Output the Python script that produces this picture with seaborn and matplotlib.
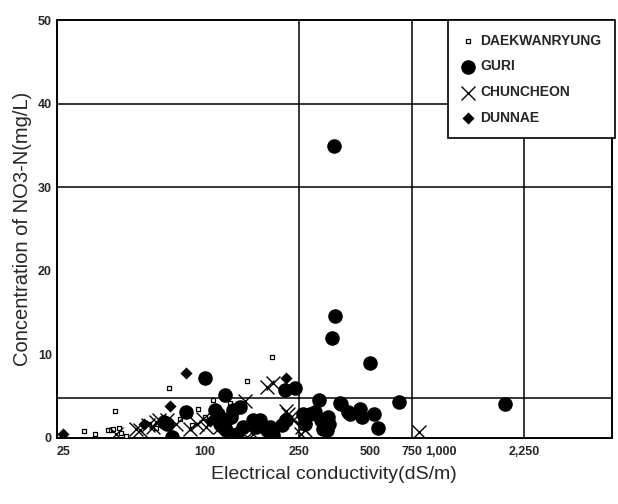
import matplotlib
matplotlib.use("Agg")
import matplotlib.pyplot as plt
import seaborn as sns
import pandas as pd

# EC (dS/m) and NO3-N (mg/L) per site
daek_ec = [30.5, 34, 41.5, 38.7, 40, 40.5, 43, 46, 44, 58, 62, 70.5, 78, 88, 93, 100, 104,
           108, 127, 150, 165, 175, 192]
daek_no3 = [0.8, 0.4, 3.2, 0.9, 0.9, 1.0, 1.2, 0.2, 0.6, 1.6, 1.2, 5.9, 2.2, 1.5, 3.5, 2.5, 1.8,
            4.5, 4.2, 6.8, 2.2, 2.4, 9.7]

guri_ec = [353, 354, 344, 499, 100, 121, 218, 240, 304, 372, 403, 378, 410, 455, 463, 522, 540,
           662, 1860, 83, 110, 129, 141, 145, 119, 116, 136, 72, 67, 311, 331, 315, 277, 264,
           221, 211, 182, 194, 170, 159, 260, 291, 327, 336, 68.6, 113, 123, 131, 123, 165,
           188, 116]
guri_no3 = [35.0, 14.6, 12.0, 8.9, 7.2, 5.1, 5.7, 5.9, 4.5, 4.2, 3.1, 4.1, 2.9, 3.5, 2.5, 2.9, 1.2,
            4.3, 4.0, 3.1, 3.3, 2.5, 3.7, 1.3, 1.3, 2.1, 0.5, 0.1, 1.9, 2.1, 2.5, 1.1, 2.9, 1.7,
            2.1, 1.5, 0.9, 0.3, 2.1, 2.1, 2.9, 3.1, 0.9, 1.7, 1.7, 2.9, 2.1, 3.3, 0.9, 1.3,
            1.3, 1.7]

chun_ec = [42, 51, 53, 57, 60, 62, 64, 69, 75.5, 86, 92, 98, 101, 116, 148, 150, 160, 182, 193,
           194, 221, 225, 232, 236, 256, 257, 264, 805]
chun_no3 = [0.5, 1.1, 0.9, 1.5, 1.3, 1.9, 2.1, 2.1, 1.7, 1.1, 1.7, 2.3, 1.3, 1.3, 4.4, 0.1, 0.5,
            6.1, 6.5, 0.9, 3.2, 2.9, 2.5, 2.1, 0.5, 1.3, 0.9, 0.7]

dunn_ec = [25, 71, 83, 221, 55, 105]
dunn_no3 = [0.4, 3.8, 7.8, 7.1, 1.7, 2.0]

sites = ["DAEKWANRYUNG", "GURI", "CHUNCHEON", "DUNNAE"]
x_ticks = [25, 100, 250, 500, 750, 1000, 2250]
x_labels = ["25", "100", "250", "500", "750", "1,000", "2,250"]

sns.set_style("white")
plt.rcParams["font.family"] = ["Liberation Sans", "DejaVu Sans"]

frames = []
for name, ec, no3 in zip(sites, [daek_ec, guri_ec, chun_ec, dunn_ec],
                         [daek_no3, guri_no3, chun_no3, dunn_no3]):
    frames.append(pd.DataFrame({"ec": ec, "no3": no3, "site": name}))
df = pd.concat(frames, ignore_index=True)

fig = plt.figure(figsize=(6.18, 5.04), dpi=100)
ax = fig.add_axes([0.092, 0.1315, 0.898, 0.828])

styles = {
    "DAEKWANRYUNG": dict(marker="s", s=11, facecolor="white", edgecolor="black", linewidth=0.9),
    "GURI": dict(marker="o", s=110, color="black", edgecolor="black", linewidth=0),
    "CHUNCHEON": dict(marker="x", s=100, color="black", linewidth=1.0),
    "DUNNAE": dict(marker="D", s=38, color="black", edgecolor="black", linewidth=0),
}
for name in sites:
    sub = df[df["site"] == name]
    sns.scatterplot(data=sub, x="ec", y="no3", ax=ax, label=name, zorder=3, **styles[name])

ax.set_xscale("log")
ax.set_xlim(23.5, 5300)
ax.set_ylim(0, 50)

# reference lines drawn on the original chart
for v in [250, 750, 2250]:
    ax.axvline(v, color="black", lw=1.1, zorder=1)
for h in [4.8, 30, 40]:
    ax.axhline(h, color="black", lw=1.1, zorder=1)

ax.set_xticks(x_ticks)
ax.set_xticklabels(x_labels)
ax.xaxis.set_minor_locator(matplotlib.ticker.NullLocator())
ax.set_yticks([0, 10, 20, 30, 40, 50])
ax.tick_params(axis="both", direction="in", length=8, width=1.2, labelsize=9)
ax.tick_params(axis="x", pad=6)
for lab in ax.get_xticklabels() + ax.get_yticklabels():
    lab.set_fontweight("bold")

for sp in ax.spines.values():
    sp.set_linewidth(1.4)
    sp.set_color("black")

ax.set_xlabel("Electrical conductivity(dS/m)", fontsize=14, labelpad=6)
ax.set_ylabel("Concentration of NO3-N(mg/L)", fontsize=14.5, labelpad=4)

leg = ax.legend(loc="upper right", bbox_to_anchor=(1.005, 1.0), frameon=True, fancybox=False,
                edgecolor="black", framealpha=1, borderpad=0.95, labelspacing=0.85,
                handletextpad=0.4, handlelength=1.0, borderaxespad=0.0,
                prop={"size": 10, "weight": "bold"})
leg.get_frame().set_linewidth(1.2)
leg.set_zorder(5)

fig.savefig("out.png", dpi=100)
